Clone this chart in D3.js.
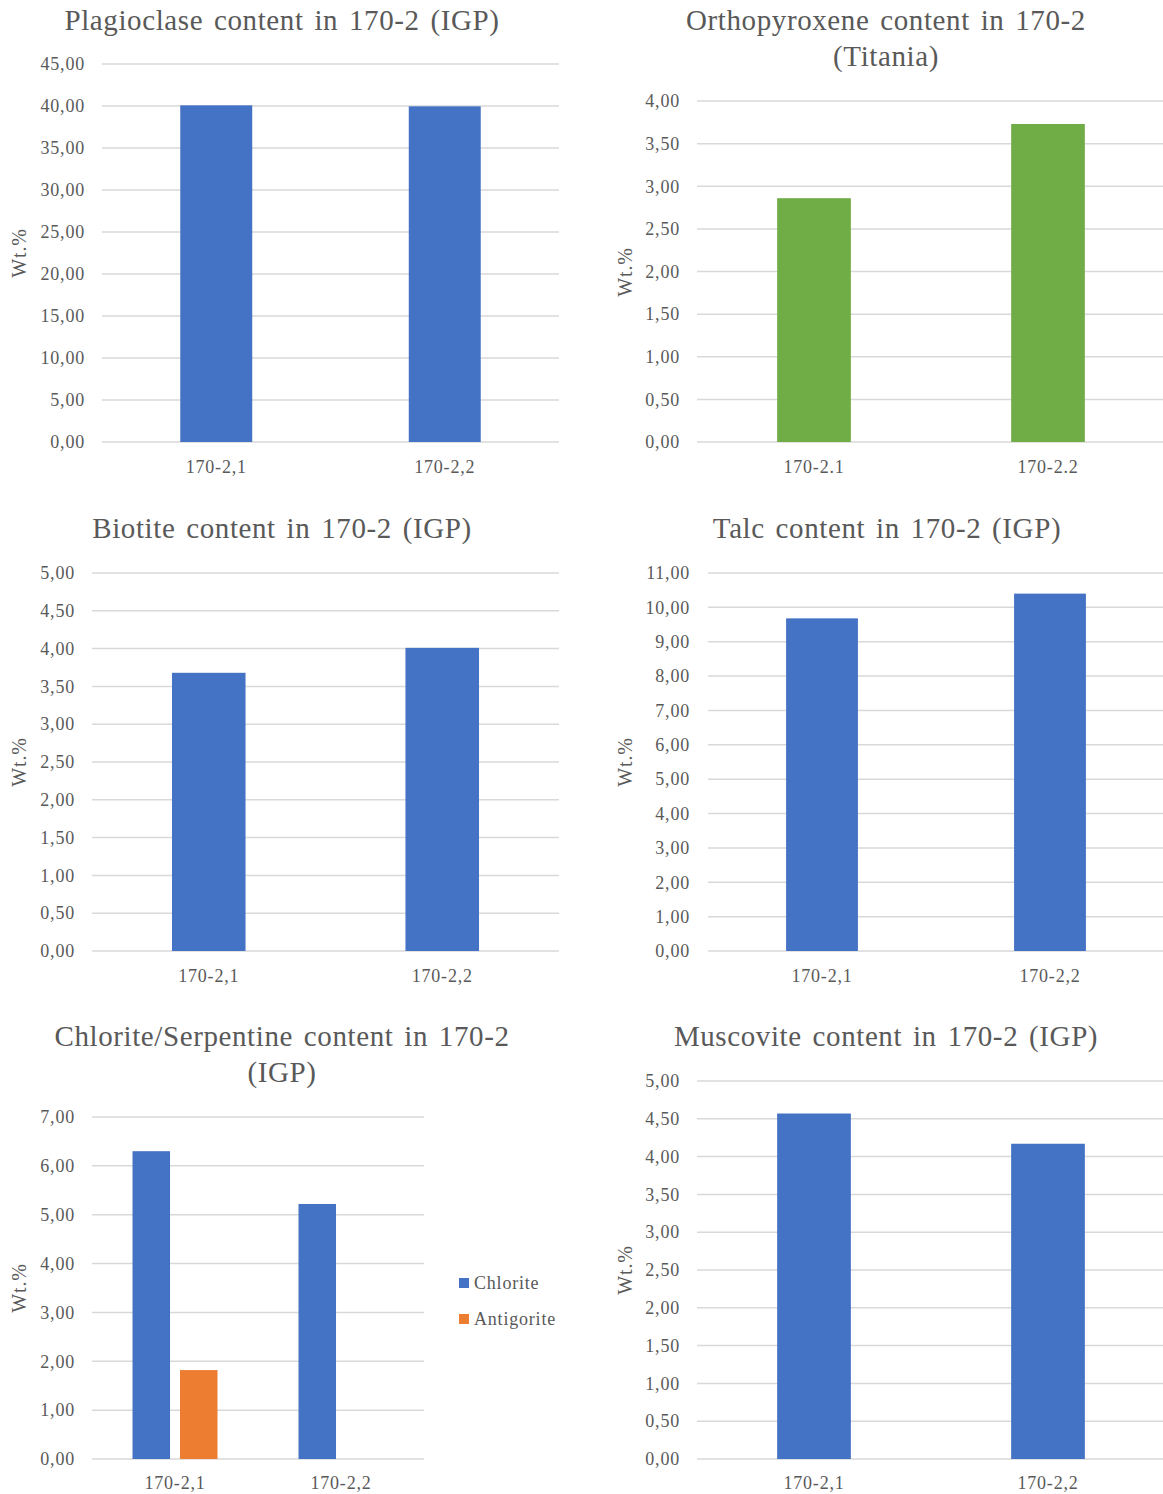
<!DOCTYPE html>
<html>
<head>
<meta charset="utf-8">
<script src="https://cdn.jsdelivr.net/npm/d3@7"></script>
<style>
  html, body { margin: 0; padding: 0; background: #fff; }
  svg text { font-family: "Liberation Serif", "Times New Roman", serif; fill: #595959; }
</style>
</head>
<body>
<svg id="chart" width="1163" height="1494"></svg>
<script>
// ---------- DATA ----------
const categoriesComma = ["170-2,1", "170-2,2"];
const categoriesDot = ["170-2.1", "170-2.2"];

const plagioclaseValues = [40.08, 39.96];
const orthopyroxeneValues = [2.86, 3.73];
const biotiteValues = [3.68, 4.01];
const talcValues = [9.68, 10.40];
const chloriteValues = [6.30, 5.22];
const antigoriteValues = [1.82, 0];
const muscoviteValues = [4.57, 4.17];

const seriesNames = ["Chlorite", "Antigorite"];

const plagioclaseTicks = [0, 5, 10, 15, 20, 25, 30, 35, 40, 45];
const orthopyroxeneTicks = [0, 0.5, 1, 1.5, 2, 2.5, 3, 3.5, 4];
const biotiteTicks = [0, 0.5, 1, 1.5, 2, 2.5, 3, 3.5, 4, 4.5, 5];
const talcTicks = [0, 1, 2, 3, 4, 5, 6, 7, 8, 9, 10, 11];
const chloriteTicks = [0, 1, 2, 3, 4, 5, 6, 7];
const muscoviteTicks = [0, 0.5, 1, 1.5, 2, 2.5, 3, 3.5, 4, 4.5, 5];

const titlePlagioclase = ["Plagioclase content in 170-2 (IGP)"];
const titleOrthopyroxene = ["Orthopyroxene content in 170-2", "(Titania)"];
const titleBiotite = ["Biotite content in 170-2 (IGP)"];
const titleTalc = ["Talc content in 170-2 (IGP)"];
const titleChlorite = ["Chlorite/Serpentine content in 170-2", "(IGP)"];
const titleMuscovite = ["Muscovite content in 170-2 (IGP)"];

const yAxisTitle = "Wt.%";

// ---------- STYLE ----------
const BLUE = "#4472C4", GREEN = "#70AD47", ORANGE = "#ED7D31";
const GRID = "#D9D9D9";
const fmt = v => d3.format(".2f")(v).replace(".", ",");
const LS = "0.8px";

const svg = d3.select("#chart");

function drawChart(cfg) {
  const g = svg.append("g");
  const { left, right, top, bottom } = cfg.plot;
  const y = d3.scaleLinear().domain([0, d3.max(cfg.ticks)]).range([bottom, top]);
  const x = d3.scaleBand().domain(cfg.categories).range([left, right])
    .paddingInner(cfg.padInner).paddingOuter(cfg.padInner / 2);

  // gridlines
  g.append("g").selectAll("line").data(cfg.ticks).join("line")
    .attr("x1", left).attr("x2", right)
    .attr("y1", d => y(d)).attr("y2", d => y(d))
    .attr("stroke", GRID).attr("stroke-width", 1.5);

  // y axis labels
  const yAxis = d3.axisLeft(y).tickValues(cfg.ticks).tickFormat(fmt).tickSize(0).tickPadding(0);
  const ya = g.append("g").attr("transform", `translate(${cfg.tickRight},0)`).call(yAxis);
  ya.select(".domain").remove();
  ya.selectAll("text").attr("font-size", cfg.tickFont).attr("fill", "#595959")
    .attr("font-family", "Liberation Serif, serif").attr("dy", "0.32em")
    .attr("letter-spacing", LS);

  // x axis labels
  const xAxis = d3.axisBottom(x).tickSize(0).tickPadding(0);
  const xa = g.append("g").attr("transform", `translate(0,${cfg.catY})`).call(xAxis);
  xa.select(".domain").remove();
  xa.selectAll("text").attr("font-size", cfg.tickFont).attr("fill", "#595959")
    .attr("font-family", "Liberation Serif, serif").attr("dy", "0.32em")
    .attr("letter-spacing", LS);

  // bars
  if (cfg.series.length === 1) {
    g.append("g").selectAll("rect").data(cfg.categories.map((c, i) => ({ c, v: cfg.series[0].values[i] })))
      .join("rect")
      .attr("x", d => x(d.c)).attr("width", x.bandwidth())
      .attr("y", d => y(d.v)).attr("height", d => y(0) - y(d.v))
      .attr("fill", cfg.series[0].color);
  } else {
    const xi = d3.scaleBand().domain(cfg.series.map(s => s.name)).range([0, x.bandwidth()])
      .paddingInner(cfg.innerPad).paddingOuter(0);
    cfg.categories.forEach((c, i) => {
      g.append("g").selectAll("rect").data(cfg.series.filter(s => s.values[i] > 0))
        .join("rect")
        .attr("x", s => x(c) + xi(s.name)).attr("width", xi.bandwidth())
        .attr("y", s => y(s.values[i])).attr("height", s => y(0) - y(s.values[i]))
        .attr("fill", s => s.color);
    });
    // legend
    const lg = g.append("g");
    cfg.series.forEach((s, i) => {
      const ly = cfg.legend.y + i * cfg.legend.step;
      lg.append("rect").attr("x", cfg.legend.x).attr("y", ly - 5).attr("width", 10).attr("height", 10).attr("fill", s.color);
      lg.append("text").attr("x", cfg.legend.x + 15).attr("y", ly).attr("dy", "0.35em")
        .attr("font-size", cfg.tickFont).attr("letter-spacing", LS).text(s.name);
    });
  }

  // title
  cfg.title.forEach((t, i) => {
    g.append("text").attr("x", cfg.titleX).attr("y", cfg.titleY + i * 36)
      .attr("text-anchor", "middle").attr("font-size", 29)
      .attr("letter-spacing", "0.6px").attr("word-spacing", "3px").text(t);
  });

  // y title
  g.append("text")
    .attr("transform", `translate(${cfg.yTitleX},${cfg.yTitleY}) rotate(-90)`)
    .attr("text-anchor", "middle").attr("font-size", 20).attr("letter-spacing", LS).text(yAxisTitle);
}

const tf = 18;

drawChart({
  categories: categoriesComma, ticks: plagioclaseTicks,
  series: [{ name: "Plagioclase", values: plagioclaseValues, color: BLUE }],
  plot: { left: 102, right: 559, top: 64, bottom: 442 }, padInner: 0.685,
  tickRight: 85, tickFont: tf, catY: 467, title: titlePlagioclase, titleX: 282, titleY: 30,
  yTitleX: 26, yTitleY: 253
});

drawChart({
  categories: categoriesDot, ticks: orthopyroxeneTicks,
  series: [{ name: "Orthopyroxene", values: orthopyroxeneValues, color: GREEN }],
  plot: { left: 697, right: 1165, top: 101, bottom: 442 }, padInner: 0.685,
  tickRight: 680, tickFont: tf, catY: 467, title: titleOrthopyroxene, titleX: 886, titleY: 30,
  yTitleX: 632, yTitleY: 272
});

drawChart({
  categories: categoriesComma, ticks: biotiteTicks,
  series: [{ name: "Biotite", values: biotiteValues, color: BLUE }],
  plot: { left: 92, right: 559, top: 573, bottom: 951 }, padInner: 0.685,
  tickRight: 75, tickFont: tf, catY: 976, title: titleBiotite, titleX: 282, titleY: 538,
  yTitleX: 26, yTitleY: 762
});

drawChart({
  categories: categoriesComma, ticks: talcTicks,
  series: [{ name: "Talc", values: talcValues, color: BLUE }],
  plot: { left: 708, right: 1164, top: 573, bottom: 951 }, padInner: 0.685,
  tickRight: 690, tickFont: tf, catY: 976, title: titleTalc, titleX: 887, titleY: 538,
  yTitleX: 632, yTitleY: 762
});

drawChart({
  categories: categoriesComma, ticks: chloriteTicks,
  series: [
    { name: seriesNames[0], values: chloriteValues, color: BLUE },
    { name: seriesNames[1], values: antigoriteValues, color: ORANGE }
  ],
  plot: { left: 92, right: 424, top: 1117, bottom: 1459 }, padInner: 0.488, innerPad: 0.21,
  tickRight: 75, tickFont: tf, catY: 1483, title: titleChlorite, titleX: 282, titleY: 1046,
  yTitleX: 26, yTitleY: 1288, legend: { x: 459, y: 1283, step: 36 }
});

drawChart({
  categories: categoriesComma, ticks: muscoviteTicks,
  series: [{ name: "Muscovite", values: muscoviteValues, color: BLUE }],
  plot: { left: 697, right: 1165, top: 1081, bottom: 1459 }, padInner: 0.685,
  tickRight: 680, tickFont: tf, catY: 1483, title: titleMuscovite, titleX: 886, titleY: 1046,
  yTitleX: 632, yTitleY: 1270
});
</script>
</body>
</html>
